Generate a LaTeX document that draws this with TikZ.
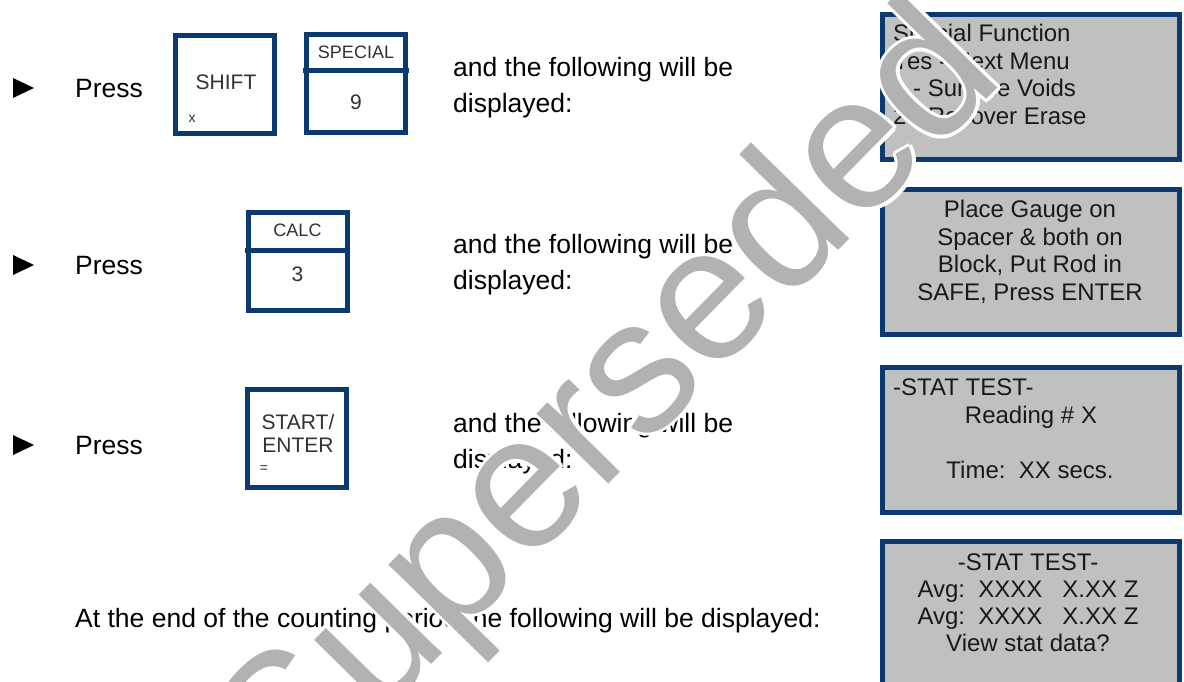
\documentclass[tikz,border=0pt]{standalone}
\usepackage{fontspec}
\usetikzlibrary{calc}
\setmainfont{Liberation Sans}
\definecolor{navy}{RGB}{10,58,112}
\definecolor{lcd}{RGB}{192,192,192}
\definecolor{keytxt}{RGB}{50,50,50}
\definecolor{wm}{gray}{0.7}
\begin{document}
\begin{tikzpicture}[x=1pt,y=-1pt,
  keybox/.style={draw=navy, line width=5pt, fill=white, minimum width=99pt, minimum height=98pt, inner sep=0pt},
  lcdbox/.style={draw=navy, line width=5pt, fill=lcd, minimum width=297pt, inner sep=0pt},
  divider/.style={draw=navy, line width=5pt},
  body/.style={font=\fontsize{26.5}{30}\selectfont, inner sep=0pt, anchor=base west},
  lcdtxt/.style={font=\fontsize{24}{27}\selectfont, inner sep=0pt, anchor=base, text=black!90},
  lcdtxtl/.style={lcdtxt, anchor=base west},
  keylbl/.style={font=\fontsize{21}{23}\selectfont, text=keytxt, inner sep=0pt},
  keysmall/.style={font=\fontsize{18}{20}\selectfont, text=keytxt, inner sep=0pt},
  keytiny/.style={font=\fontsize{14}{16}\selectfont, text=keytxt, inner sep=0pt},
  wmtxt/.style={font=\fontsize{190}{190}\selectfont, inner sep=0pt, rotate=45.5}
]
\useasboundingbox[fill=white] (0,0) rectangle (1184,682);

% ---------- bullets ----------
\fill (13,78) -- (13,98) -- (34,88) -- cycle;
\fill (13,255) -- (13,275) -- (34,265) -- cycle;
\fill (13,435) -- (13,455) -- (34,445) -- cycle;

% ---------- row 1 ----------
\node[body] (p1) at (75,97.5) {Press};
\node[keybox] (shift) at (224.5,85) {};
\node[keylbl] (shiftl) at (226,82) {SHIFT};
\node[keytiny] (shiftx) at (192,119) {x};
\node[keybox] (special) at (356,84) {};
\coordinate (spL) at (303,71);
\coordinate (spR) at (409,71);
\draw[divider] (spL) -- (spR);
\node[keysmall] (specl) at (356,52) {SPECIAL};
\node[keylbl] (nine) at (356,102) {9};
\node[body] (t1a) at (453,77) {and the following will be};
\node[body] (t1b) at (453,113) {displayed:};

% ---------- row 2 ----------
\node[body] (p2) at (75,274.5) {Press};
\node[keybox] (calc) at (297.5,261.5) {};
\coordinate (caL) at (245,250);
\coordinate (caR) at (350,250);
\draw[divider] (caL) -- (caR);
\node[keysmall] (calcl) at (297.5,230) {CALC};
\node[keylbl] (three) at (297.5,274) {3};
\node[body] (t2a) at (453,253) {and the following will be};
\node[body] (t2b) at (453,289) {displayed:};

% ---------- row 3 ----------
\node[body] (p3) at (75,454) {Press};
\node[keybox] (start) at (296.5,438.5) {};
\node[keylbl] (startl) at (298,422) {START/};
\node[keylbl] (enterl) at (298,445) {ENTER};
\node[keytiny] (eq) at (264,469) {=};
\node[body] (t3a) at (453,432) {and the following will be};
\node[body] (t3b) at (453,468) {displayed:};

% ---------- row 4 ----------
\node[body] (t4) at (75,627) {At the end of the counting period the following will be displayed:};

% ---------- displays ----------
\node[lcdbox, minimum height=145pt] (d1) at (1031,87) {};
\node[lcdtxtl] (d1a) at (893,42) {Special Function};
\node[lcdtxtl] (d1b) at (893,70) {Yes - Next Menu};
\node[lcdtxtl] (d1c) at (893,97) {1 - Surface Voids};
\node[lcdtxtl] (d1d) at (893,125) {2 - Recover Erase};

\node[lcdbox, minimum height=145pt] (d2) at (1031,262) {};
\node[lcdtxt] (d2a) at (1030,218) {Place Gauge on};
\node[lcdtxt] (d2b) at (1030,245) {Spacer \& both on};
\node[lcdtxt] (d2c) at (1030,272) {Block, Put Rod in};
\node[lcdtxt] (d2d) at (1030,300) {SAFE, Press ENTER};

\node[lcdbox, minimum height=145pt] (d3) at (1031,440) {};
\node[lcdtxtl] (d3a) at (893,395) {-STAT TEST-};
\node[lcdtxt] (d3b) at (1031,423) {Reading \# X};
\node[lcdtxt] (d3c) at (1030,478) {Time:\ \ XX secs.};

\node[lcdbox, minimum height=160pt] (d4) at (1031,621.5) {};
\node[lcdtxt] (d4a) at (1028,570) {-STAT TEST-};
\node[lcdtxt] (d4b) at (1028,597) {Avg:\ \ XXXX\ \ \ X.XX Z};
\node[lcdtxt] (d4c) at (1028,624) {Avg:\ \ XXXX\ \ \ X.XX Z};
\node[lcdtxt] (d4d) at (1028,651) {View stat data?};

% ---------- watermark ----------
\foreach \a in {0,45,...,315}{
  \node[wmtxt, text=white] (wmh\a) at ($(613,410)+(\a:3.5)$) {Superseded};
}
\node[wmtxt, text=wm] (wm) at (613,410) {Superseded};
\end{tikzpicture}
\end{document}
